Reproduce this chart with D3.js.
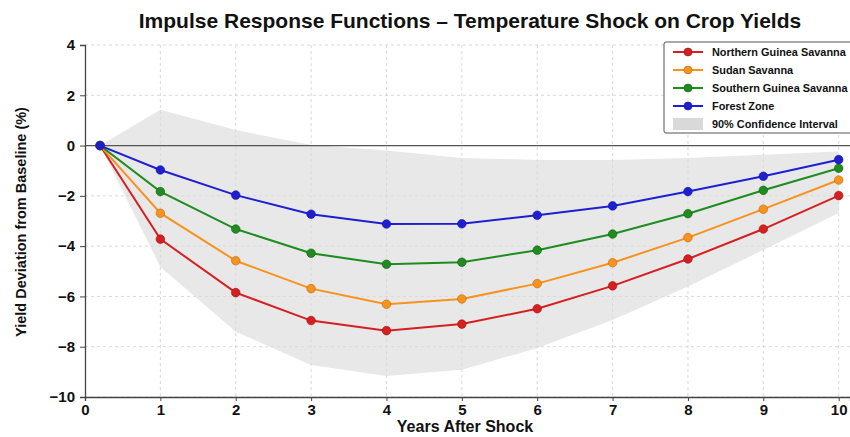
<!DOCTYPE html>
<html>
<head>
<meta charset="utf-8">
<script src="https://cdn.jsdelivr.net/npm/d3@7"></script>
<style>
  body { margin: 0; background: #fff; }
  svg { display: block; font-family: "Liberation Sans", Arial, Helvetica, sans-serif; }
</style>
</head>
<body>
<svg id="chart" width="850" height="437"></svg>
<script>
var width = 850,
    height = 437;

// years after shock (first point sits a little right of 0 in the picture)
const years = [0.2, 1, 2, 3, 4, 5, 6, 7, 8, 9, 10];

const northern = [0, -3.72, -5.85, -6.96, -7.36, -7.10, -6.49, -5.58, -4.51, -3.32, -1.99];
const sudan = [0, -2.69, -4.58, -5.69, -6.31, -6.10, -5.49, -4.66, -3.66, -2.53, -1.37];
const southern = [0, -1.83, -3.32, -4.28, -4.72, -4.64, -4.16, -3.52, -2.71, -1.78, -0.90];
const forest = [0, -0.97, -1.97, -2.73, -3.12, -3.11, -2.77, -2.40, -1.83, -1.22, -0.56];

const ci_upper = [0, 1.42, 0.62, 0.02, -0.20, -0.49, -0.57, -0.57, -0.49, -0.37, -0.24];
const ci_lower = [0, -4.82, -7.40, -8.73, -9.16, -8.92, -8.05, -6.94, -5.61, -4.15, -2.68];

const x_ticks = [0, 1, 2, 3, 4, 5, 6, 7, 8, 9, 10];
const y_ticks = [4, 2, 0, -2, -4, -6, -8, -10];

const series = [
    { name: "Northern Guinea Savanna", values: northern, color: "#d42020", edge: "#a01010" },
    { name: "Sudan Savanna", values: sudan, color: "#f7921e", edge: "#b86a10" },
    { name: "Southern Guinea Savanna", values: southern, color: "#1e8c1e", edge: "#126012" },
    { name: "Forest Zone", values: forest, color: "#1f1fd2", edge: "#10109a" }
];

var svg = d3.select("#chart");

var x = d3.scaleLinear().domain([0, 10.15]).range([85, 850]);
var y = d3.scaleLinear().domain([-10, 4]).range([397, 45]);

// Grid
svg.append("g")
    .selectAll("line")
    .data(y_ticks)
    .join("line")
    .attr("x1", x(0)).attr("x2", width)
    .attr("y1", function (d) { return y(d); })
    .attr("y2", function (d) { return y(d); })
    .attr("stroke", "#cfcfcf")
    .attr("stroke-width", 0.8)
    .attr("stroke-dasharray", "3,3");

svg.append("g")
    .selectAll("line")
    .data(x_ticks.slice(1))
    .join("line")
    .attr("x1", function (d) { return x(d); })
    .attr("x2", function (d) { return x(d); })
    .attr("y1", y(4)).attr("y2", y(-10))
    .attr("stroke", "#cfcfcf")
    .attr("stroke-width", 0.8)
    .attr("stroke-dasharray", "3,3");

// Confidence band
var band = d3.area()
    .x(function (d, i) { return x(years[i]); })
    .y0(function (d, i) { return y(ci_lower[i]); })
    .y1(function (d, i) { return y(ci_upper[i]); });

svg.append("path")
    .datum(years)
    .attr("d", band)
    .attr("fill", "#d9d9d9")
    .attr("fill-opacity", 0.6);

// Zero line
svg.append("line")
    .attr("x1", x(0)).attr("x2", width)
    .attr("y1", y(0)).attr("y2", y(0))
    .attr("stroke", "#555")
    .attr("stroke-width", 1.2);

// Axes
var xAxis = svg.append("g")
    .attr("transform", "translate(0," + y(-10) + ")")
    .call(d3.axisBottom(x).tickValues(x_ticks).tickSize(4).tickPadding(3));
var yAxis = svg.append("g")
    .attr("transform", "translate(" + x(0) + ",0)")
    .call(d3.axisLeft(y).tickValues(y_ticks).tickSize(5).tickPadding(5)
        .tickFormat(function (d) { return d < 0 ? "\u2212" + Math.abs(d) : d; }));

[xAxis, yAxis].forEach(function (a) {
    a.select(".domain").attr("stroke", "#444").attr("stroke-width", 1.3);
    a.selectAll(".tick line").attr("stroke", "#444");
    a.selectAll(".tick text")
        .attr("fill", "#111")
        .style("font-size", "15px")
        .style("font-weight", "bold")
        .style("font-family", "'Liberation Sans', Arial, sans-serif");
});

// Lines and markers
var line = d3.line()
    .x(function (d, i) { return x(years[i]); })
    .y(function (d) { return y(d); });

series.forEach(function (s) {
    svg.append("path")
        .datum(s.values)
        .attr("d", line)
        .attr("fill", "none")
        .attr("stroke", s.color)
        .attr("stroke-width", 2);
});
series.forEach(function (s) {
    svg.append("g")
        .selectAll("circle")
        .data(s.values)
        .join("circle")
        .attr("cx", function (d, i) { return x(years[i]); })
        .attr("cy", function (d) { return y(d); })
        .attr("r", 4.3)
        .attr("fill", s.color)
        .attr("stroke", s.edge)
        .attr("stroke-width", 0.6);
});

// Title and axis labels
svg.append("text")
    .attr("x", 470).attr("y", 28)
    .attr("text-anchor", "middle")
    .style("font-size", "21px")
    .style("font-weight", "bold")
    .attr("fill", "#111")
    .text("Impulse Response Functions \u2013 Temperature Shock on Crop Yields");

svg.append("text")
    .attr("x", 465).attr("y", 432)
    .attr("text-anchor", "middle")
    .style("font-size", "16px")
    .style("font-weight", "bold")
    .attr("fill", "#111")
    .text("Years After Shock");

svg.append("text")
    .attr("transform", "translate(26,222) rotate(-90)")
    .attr("text-anchor", "middle")
    .style("font-size", "14.5px")
    .style("font-weight", "bold")
    .attr("fill", "#111")
    .text("Yield Deviation from Baseline (%)");

// Legend
var legend = svg.append("g").attr("transform", "translate(664,42)");
legend.append("rect")
    .attr("x", 0).attr("y", 0)
    .attr("width", 200).attr("height", 91)
    .attr("rx", 2)
    .attr("fill", "#fff")
    .attr("stroke", "#555")
    .attr("stroke-width", 1);

var rows = legend.selectAll("g.row")
    .data(series)
    .join("g")
    .attr("class", "row")
    .attr("transform", function (d, i) { return "translate(0," + (10 + i * 18) + ")"; });
rows.append("line")
    .attr("x1", 9).attr("x2", 39)
    .attr("stroke", function (d) { return d.color; })
    .attr("stroke-width", 2);
rows.append("circle")
    .attr("cx", 24).attr("r", 4)
    .attr("fill", function (d) { return d.color; })
    .attr("stroke", function (d) { return d.edge; })
    .attr("stroke-width", 0.6);
rows.append("text")
    .attr("x", 48).attr("dy", "0.35em")
    .style("font-size", "10.9px")
    .style("font-weight", "bold")
    .attr("fill", "#111")
    .text(function (d) { return d.name; });

var ciRow = legend.append("g").attr("transform", "translate(0," + (10 + 4 * 18) + ")");
ciRow.append("rect")
    .attr("x", 9).attr("y", -6)
    .attr("width", 30).attr("height", 12)
    .attr("fill", "#d9d9d9");
ciRow.append("text")
    .attr("x", 48).attr("dy", "0.35em")
    .style("font-size", "10.9px")
    .style("font-weight", "bold")
    .attr("fill", "#111")
    .text("90% Confidence Interval");
</script>
</body>
</html>
